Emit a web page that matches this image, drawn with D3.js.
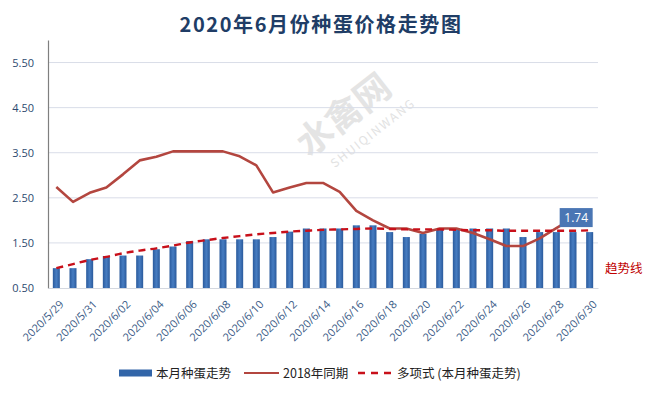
<!DOCTYPE html>
<html>
<head>
<meta charset="utf-8">
<script src="https://cdn.jsdelivr.net/npm/d3@7"></script>
<style>
  body { margin: 0; background: #fff; }
  svg { display: block; font-family: "Noto Sans CJK SC", "Noto Sans", sans-serif; }
</style>
</head>
<body>
<svg id="chart" width="647" height="393"></svg>
<script>
// dates, one per bar
const dates = ['2020/5/29','2020/5/30','2020/5/31','2020/6/01','2020/6/02','2020/6/03','2020/6/04',
  '2020/6/05','2020/6/06','2020/6/07','2020/6/08','2020/6/09','2020/6/10','2020/6/11','2020/6/12',
  '2020/6/13','2020/6/14','2020/6/15','2020/6/16','2020/6/17','2020/6/18','2020/6/19','2020/6/20',
  '2020/6/21','2020/6/22','2020/6/23','2020/6/24','2020/6/25','2020/6/26','2020/6/27','2020/6/28',
  '2020/6/29','2020/6/30'];

// 本月种蛋走势
const thisMonth = [0.94,0.94,1.14,1.21,1.22,1.22,1.36,1.42,1.54,1.58,1.58,1.58,1.58,1.63,1.75,1.82,
  1.82,1.82,1.89,1.89,1.74,1.63,1.70,1.82,1.82,1.82,1.82,1.82,1.63,1.74,1.74,1.74,1.74];

// 2018年同期 (last day has no value)
const sameDay2018 = [2.74,2.41,2.61,2.73,3.02,3.33,3.41,3.53,3.53,3.53,3.53,3.42,3.22,2.62,2.73,2.83,
  2.83,2.63,2.21,2.00,1.82,1.82,1.72,1.82,1.82,1.72,1.58,1.43,1.43,1.60,1.83,2.05,null];

// 多项式 (本月种蛋走势) trend line
const trend = [0.94,1.03,1.12,1.19,1.27,1.33,1.38,1.44,1.51,1.56,1.61,1.65,1.69,1.72,1.75,1.77,
  1.79,1.80,1.81,1.82,1.81,1.80,1.80,1.80,1.79,1.78,1.78,1.77,1.77,1.77,1.77,1.77,1.78];

const yTicks = [0.5, 1.5, 2.5, 3.5, 4.5, 5.5];
const lastLabel = '1.74';

const svg = d3.select('#chart');
const plotL = 48, plotR = 598, plotT = 40, plotB = 288;

const x = d3.scaleBand().domain(dates).range([plotL, plotR]).paddingInner(0.58).paddingOuter(0.29);
const y = d3.scaleLinear().domain([0.5, 6.0]).range([plotB, plotT]);
const cx = d => x(d) + x.bandwidth() / 2;

// gradient for bars
const defs = svg.append('defs');
const grad = defs.append('linearGradient').attr('id', 'barGrad')
    .attr('x1', 0).attr('x2', 1).attr('y1', 0).attr('y2', 0);
grad.append('stop').attr('offset', '0%').attr('stop-color', '#2a5a9c');
grad.append('stop').attr('offset', '50%').attr('stop-color', '#477dc2');
grad.append('stop').attr('offset', '100%').attr('stop-color', '#2a5a9c');

// title
svg.append('text')
    .attr('x', 321).attr('y', 32)
    .attr('text-anchor', 'middle')
    .attr('fill', '#203d66')
    .style('font-size', '20px')
    .style('font-weight', 'bold')
    .style('letter-spacing', '1.6px')
    .text('2020年6月份种蛋价格走势图');

// watermark
const wm = svg.append('g').attr('transform', 'translate(309,158)rotate(-38)');
wm.append('text').attr('fill', '#e4e4e4').style('font-size', '36px').style('font-weight', 'bold')
    .text('水禽网');
wm.append('text').attr('x', 14).attr('y', 24).attr('fill', '#e2e2e2').style('font-size', '12px')
    .style('letter-spacing', '1.8px').text('SHUIQINWANG');

// grid
svg.append('g')
    .selectAll('line')
    .data(yTicks.slice(1))
    .enter().append('line')
    .attr('x1', plotL).attr('x2', plotR)
    .attr('y1', d => y(d)).attr('y2', d => y(d))
    .attr('stroke', '#d9dde8').attr('stroke-width', 1);

// y axis
const yAxis = svg.append('g')
    .attr('transform', 'translate(' + plotL + ',0)')
    .call(d3.axisLeft(y).tickValues(yTicks).tickFormat(d3.format('.2f')).tickSize(0).tickPadding(14));
yAxis.select('.domain').attr('stroke', '#7f7f7f').attr('stroke-width', 1.2);
yAxis.selectAll('text').attr('fill', '#2d4a70').style('font-size', '11px')
    .style('font-family', '"Open Sans", "Noto Sans", sans-serif');

// bars
svg.append('g')
    .selectAll('rect')
    .data(dates)
    .enter().append('rect')
    .attr('x', d => x(d))
    .attr('y', (d, i) => y(thisMonth[i]))
    .attr('width', x.bandwidth())
    .attr('height', (d, i) => plotB - y(thisMonth[i]))
    .attr('fill', 'url(#barGrad)');

// x axis
const xAxis = svg.append('g')
    .attr('transform', 'translate(0,' + plotB + ')')
    .call(d3.axisBottom(x).tickValues(dates.filter((d, i) => i % 2 === 0)).tickSize(0));
xAxis.select('.domain').attr('stroke', '#d4d8e0').attr('stroke-width', 1);
xAxis.selectAll('text')
    .attr('fill', '#3a5b86')
    .style('font-size', '11px')
    .style('font-family', '"Open Sans", "Noto Sans", sans-serif')
    .attr('text-anchor', 'end')
    .attr('dy', 0)
    .attr('transform', 'translate(6,15)rotate(-45)');

// 2018 line
const line2018 = d3.line()
    .defined(d => d != null)
    .x((d, i) => cx(dates[i]))
    .y(d => y(d));
svg.append('path')
    .datum(sameDay2018)
    .attr('d', line2018)
    .attr('fill', 'none')
    .attr('stroke', '#b3463f')
    .attr('stroke-width', 2.6)
    .attr('stroke-linejoin', 'round');

// trend line
const trendLine = d3.line()
    .x((d, i) => cx(dates[i]))
    .y(d => y(d))
    .curve(d3.curveMonotoneX);
svg.append('path')
    .datum(trend)
    .attr('d', trendLine)
    .attr('fill', 'none')
    .attr('stroke', '#c8101a')
    .attr('stroke-width', 2.4)
    .attr('stroke-dasharray', '7,5');

// data label on the last bar
const lastX = cx(dates[dates.length - 1]);
const lastY = y(thisMonth[thisMonth.length - 1]);
const lab = svg.append('g').attr('transform', 'translate(' + (lastX + 3) + ',' + (lastY - 5) + ')');
lab.append('rect').attr('x', -33).attr('y', -19).attr('width', 33).attr('height', 19).attr('fill', '#4a76b4');
lab.append('text').attr('x', -16.5).attr('y', -5).attr('text-anchor', 'middle')
    .attr('fill', '#fff').style('font-size', '12px')
    .style('font-family', '"Open Sans", "Noto Sans", sans-serif')
    .text(lastLabel);

// 趋势线 note
svg.append('text')
    .attr('x', 605).attr('y', 273)
    .attr('fill', '#c00000')
    .style('font-size', '12.5px')
    .text('趋势线');

// legend
const legend = svg.append('g').attr('transform', 'translate(0,373)');
legend.append('rect').attr('x', 119).attr('y', -3.5).attr('width', 33).attr('height', 7).attr('fill', '#3265a8');
legend.append('text').attr('x', 156).attr('y', 4.5).style('font-size', '12.5px').attr('fill', '#222').text('本月种蛋走势');
legend.append('line').attr('x1', 244).attr('x2', 279).attr('y1', 0).attr('y2', 0)
    .attr('stroke', '#b3463f').attr('stroke-width', 2);
legend.append('text').attr('x', 283).attr('y', 4.5).style('font-size', '12.5px').attr('fill', '#222').text('2018年同期');
legend.append('line').attr('x1', 358).attr('x2', 393).attr('y1', 0).attr('y2', 0)
    .attr('stroke', '#c8101a').attr('stroke-width', 2.4).attr('stroke-dasharray', '7,6');
legend.append('text').attr('x', 397).attr('y', 4.5).style('font-size', '12.5px').attr('fill', '#222').text('多项式 (本月种蛋走势)');
</script>
</body>
</html>
